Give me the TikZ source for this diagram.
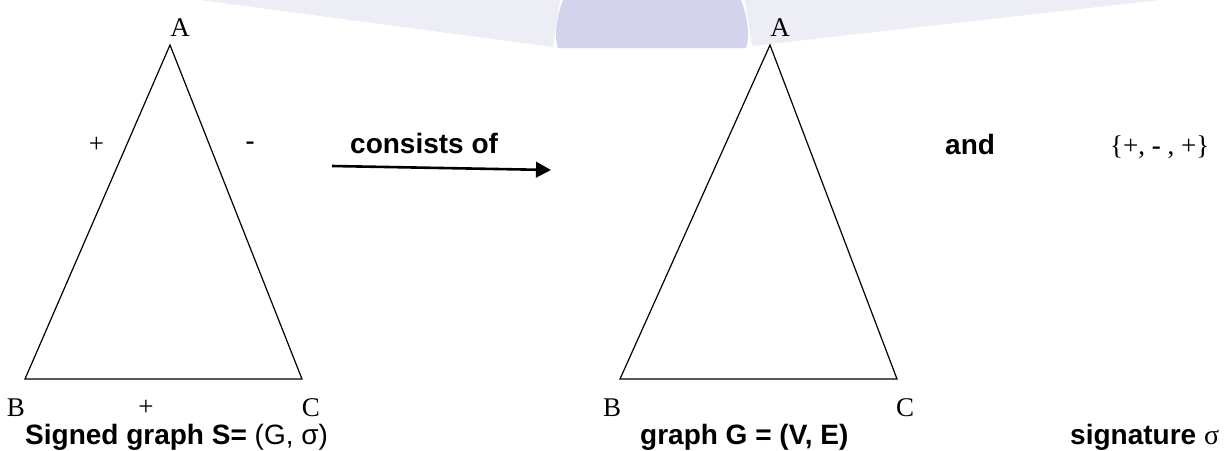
\documentclass[tikz,border=0pt]{standalone}
\usepackage{fontspec}
\setmainfont{Liberation Serif}
\newfontfamily\arialf{Liberation Sans}
\usetikzlibrary{arrows.meta}

\definecolor{markdark}{HTML}{D3D3EC}
\definecolor{marklight}{HTML}{EDEDF6}

\begin{document}
\begin{tikzpicture}[
  x=1pt, y=-1pt,
  vtx/.style={font=\fontsize{27}{30}\selectfont, inner sep=0pt, anchor=base},
  sgn/.style={font=\fontsize{27}{30}\selectfont, inner sep=0pt},
  word/.style={font=\arialf\bfseries\fontsize{28}{32}\selectfont, inner sep=0pt, anchor=base west},
  edge/.style={line width=1.2pt}
]
\useasboundingbox (0,0) rectangle (1232,450);

% faint mark at the top
\fill[marklight] (200,0) -- (560,0) -- (553,47) -- cycle;
\fill[marklight] (745,0) -- (1160,0) -- (752,46) -- cycle;
\fill[markdark] (563,0) .. controls (556,18) and (554,38) .. (558,48)
  -- (746,48) .. controls (750,38) and (748,18) .. (741,0) -- cycle;

% signed graph
\coordinate (a1) at (170,45);
\coordinate (b1) at (25,379);
\coordinate (c1) at (302,379);
\draw[edge] (a1) -- (b1) -- (c1) -- cycle;
\node[vtx] (la1) at (180,36) {A};
\node[vtx] (lb1) at (16,416) {B};
\node[vtx] (lc1) at (311,416) {C};
\node[sgn] (sab) at (96.5,145) {+};
\node[sgn] (sac) at (250,146) {\textbf{-}};
\node[sgn] (sbc) at (146,408) {+};

% arrow
\node[word] (cons) at (350,153) {consists of};
\coordinate (arrs) at (332,166);
\coordinate (arre) at (551,170);
\draw[line width=2.6pt, -{Triangle[length=15pt,width=15.5pt]}] (arrs) -- (arre);

% underlying graph
\coordinate (a2) at (770,45);
\coordinate (b2) at (620,379);
\coordinate (c2) at (897,379);
\draw[edge] (a2) -- (b2) -- (c2) -- cycle;
\node[vtx] (la2) at (780,36) {A};
\node[vtx] (lb2) at (612,416) {B};
\node[vtx] (lc2) at (905,416) {C};

\node[word] (andw) at (945,154) {and};
\node[word, font=\fontsize{27}{30}\selectfont] (sig) at (1110,154) {\{+, \textbf{-} , +\}};

% captions
\node[word] (cap1) at (25,444) {Signed graph S= \mdseries(G, σ)};
\node[word] (cap2) at (640,444) {graph G = (V, E)};
\node[word] (cap3) at (1070,444) {signature \mdseries\rmfamily σ};
\end{tikzpicture}
\end{document}
